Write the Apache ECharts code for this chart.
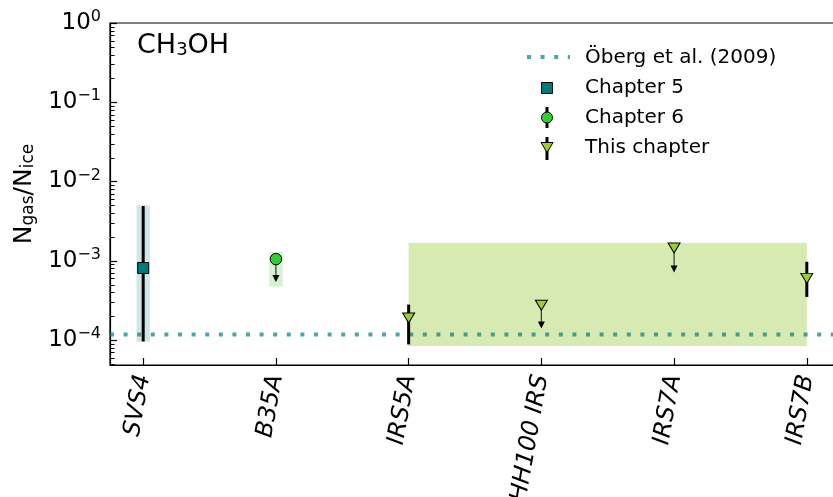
<!DOCTYPE html>
<html>
<head>
<meta charset="utf-8">
<title>CH3OH gas/ice ratio</title>
<script src="https://cdn.jsdelivr.net/npm/echarts@6/dist/echarts.min.js"></script>
<style>
    html, body { margin: 0; padding: 0; background: #fff; }
    #chart { width: 833px; height: 497px; }
</style>
</head>
<body>
<div id="chart"></div>
<script>
    // sources along the x axis
    const categories = ['SVS4', 'B35A', 'IRS5A', 'HH100 IRS', 'IRS7A', 'IRS7B'];
    const yTickValues = [1e-4, 1e-3, 1e-2, 1e-1, 1];
    const yMin = 4.84e-5;
    const yMax = 1;

    // Öberg et al. (2009) level
    const obergValue = 1.17e-4;

    // Chapter 5 (detection + error bar)
    const ch5Index = [0];
    const ch5Value = [8.1e-4];
    const ch5Low = [9.6e-5];
    const ch5High = [4.9e-3];

    // Chapter 6 (upper limit)
    const ch6Index = [1];
    const ch6Value = [1.05e-3];
    const ch6Arrow = [5.4e-4];

    // this chapter
    const thisIndex = [2, 3, 4, 5];
    const thisValue = [1.9e-4, 2.75e-4, 1.45e-3, 6.0e-4];
    const thisLow = [8.8e-5, null, null, 3.5e-4];
    const thisHigh = [2.8e-4, null, null, 9.7e-4];
    const thisArrow = [null, 1.4e-4, 7.1e-4, null];

    // shaded ranges
    const bandStart = [-0.05, 0.95, 2];
    const bandEnd = [0.05, 1.05, 5];
    const bandLow = [9.5e-5, 4.7e-4, 8.4e-5];
    const bandHigh = [5.0e-3, 1.29e-3, 1.67e-3];
    const bandColor = ['#cfe6e6', '#d6f2d2', '#d7eab2'];

    const FONT = 'DejaVu Sans';
    const TEAL = '#007b7b';
    const LIME = '#33cc33';
    const YGREEN = '#9acd32';
    const DOT = 'rgba(0, 128, 128, 0.7)';

    // minor ticks of the log axis (2..9 x 10^d)
    const yMinorTicks = [];
    for (let d = -5; d < 0; d++) {
        for (let k = 2; k <= 9; k++) {
            const v = k * Math.pow(10, d);
            if (v > yMin && v < yMax) yMinorTicks.push(v);
        }
    }

    const bandData = bandStart.map((s, i) => [s, bandEnd[i], bandLow[i], bandHigh[i]]);
    const errData = [];
    ch5Index.forEach((x, i) => errData.push([x, ch5Low[i], ch5High[i]]));
    thisIndex.forEach((x, i) => {
        if (thisLow[i] != null) errData.push([x, thisLow[i], thisHigh[i]]);
    });
    const arrowData = [];
    ch6Index.forEach((x, i) => arrowData.push([x, ch6Value[i], ch6Arrow[i]]));
    thisIndex.forEach((x, i) => {
        if (thisArrow[i] != null) arrowData.push([x, thisValue[i], thisArrow[i]]);
    });

    function renderBand(params, api) {
        const p0 = api.coord([api.value(0), api.value(3)]);
        const p1 = api.coord([api.value(1), api.value(2)]);
        return {
            type: 'rect',
            shape: {x: p0[0], y: p0[1], width: p1[0] - p0[0], height: p1[1] - p0[1]},
            style: {fill: bandColor[params.dataIndex]}
        };
    }

    // horizontal reference line across the whole plot
    function renderLevel(params, api) {
        const cs = params.coordSys;
        const y = api.coord([0, api.value(0)])[1];
        return {
            type: 'line',
            shape: {x1: cs.x, y1: y, x2: cs.x + cs.width, y2: y},
            style: {stroke: DOT, lineWidth: 4, lineDash: [4, 9.6], lineCap: 'butt'}
        };
    }

    // short inward tick on the left spine
    function renderMinorTick(params, api) {
        const cs = params.coordSys;
        const y = Math.round(api.coord([0, api.value(0)])[1]) + 0.5;
        return {
            type: 'line',
            shape: {x1: cs.x, y1: y, x2: cs.x + 4.5, y2: y},
            style: {stroke: '#000', lineWidth: 1}
        };
    }

    function renderErrorBar(params, api) {
        const top = api.coord([api.value(0), api.value(2)]);
        const bottom = api.coord([api.value(0), api.value(1)]);
        return {
            type: 'line',
            shape: {x1: top[0], y1: top[1], x2: bottom[0], y2: bottom[1]},
            style: {stroke: '#000', lineWidth: 3}
        };
    }

    function renderArrow(params, api) {
        const from = api.coord([api.value(0), api.value(1)]);
        const to = api.coord([api.value(0), api.value(2)]);
        return {
            type: 'group',
            children: [
                {
                    type: 'line',
                    shape: {x1: from[0], y1: from[1], x2: to[0], y2: to[1] - 5},
                    style: {stroke: '#333', lineWidth: 1.2}
                },
                {
                    type: 'polygon',
                    shape: {points: [[to[0] - 3.5, to[1] - 7], [to[0] + 3.5, to[1] - 7], [to[0], to[1]]]},
                    style: {fill: '#000'}
                }
            ]
        };
    }

    function supLabel(v) {
        const e = Math.round(Math.log10(v));
        const txt = e < 0 ? '\u2212' + (-e) : String(e);
        return '{b|10}{s|' + txt + '}';
    }

    const chart = echarts.init(document.getElementById('chart'), null, {renderer: 'canvas'});

    const option = {
        animation: false,
        backgroundColor: '#fff',
        textStyle: {fontFamily: FONT},
        grid: {
            left: 110, top: 23, width: 730, bottom: 132,
            containLabel: false,
            outerBoundsMode: 'none',
            show: true, borderColor: '#000', borderWidth: 1.2, backgroundColor: 'transparent'
        },
        xAxis: {
            type: 'value',
            min: -0.25,
            max: 5.25,
            splitLine: {show: false},
            axisLine: {onZero: false, lineStyle: {color: '#000', width: 1.2}},
            axisTick: {
                inside: true, length: 7,
                lineStyle: {color: '#000', width: 1.2},
                customValues: categories.map((c, i) => i)
            },
            axisLabel: {
                customValues: categories.map((c, i) => i),
                formatter: v => categories[Math.round(v)],
                rotate: 80,
                margin: 10,
                color: '#000',
                fontSize: 24,
                fontStyle: 'italic',
                fontFamily: FONT
            }
        },
        yAxis: {
            type: 'log',
            logBase: 10,
            min: yMin,
            max: yMax,
            name: 'N{s|gas}/N{s|ice}',
            nameLocation: 'middle',
            nameRotate: 90,
            nameGap: 68,
            nameTextStyle: {
                color: '#000', fontSize: 25, fontFamily: FONT,
                rich: {
                    s: {fontSize: 17, fontFamily: FONT, color: '#000', verticalAlign: 'bottom', padding: [8, 0, 0, 0]}
                }
            },
            splitLine: {show: false},
            axisLine: {show: true, onZero: false, lineStyle: {color: '#000', width: 1.2}},
            axisTick: {
                inside: true, length: 7,
                lineStyle: {color: '#000', width: 1.2},
                customValues: yTickValues
            },
            axisLabel: {
                customValues: yTickValues,
                formatter: supLabel,
                margin: 9,
                color: '#000',
                rich: {
                    b: {fontSize: 23, fontFamily: FONT, color: '#000', lineHeight: 28},
                    s: {fontSize: 16, fontFamily: FONT, color: '#000', verticalAlign: 'top', lineHeight: 16}
                }
            }
        },
        graphic: [
            {
                type: 'text', left: 137, top: 32,
                style: {
                    text: 'CH{s|3}OH',
                    font: '27px "DejaVu Sans"',
                    fill: '#000',
                    rich: {s: {fontSize: 18, fontFamily: FONT, fill: '#000', verticalAlign: 'bottom', padding: [10, 0, 0, 0]}}
                }
            },
            // legend
            {
                type: 'line', shape: {x1: 527, y1: 57, x2: 570, y2: 57},
                style: {stroke: DOT, lineWidth: 4, lineDash: [4, 9.6]}
            },
            {type: 'rect', shape: {x: 541.5, y: 82.5, width: 11, height: 11}, style: {fill: TEAL, stroke: '#000', lineWidth: 1}},
            {type: 'line', shape: {x1: 547, y1: 107, x2: 547, y2: 128}, style: {stroke: '#000', lineWidth: 3}},
            {type: 'circle', shape: {cx: 547, cy: 117.5, r: 5.5}, style: {fill: LIME, stroke: '#000', lineWidth: 1}},
            {type: 'line', shape: {x1: 547, y1: 137, x2: 547, y2: 160}, style: {stroke: '#000', lineWidth: 3}},
            {
                type: 'polygon', shape: {points: [[541, 142.5], [553, 142.5], [547, 152.5]]},
                style: {fill: YGREEN, stroke: '#000', lineWidth: 1}
            },
            {type: 'text', left: 585, top: 48, style: {text: 'Öberg et al. (2009)', font: '20px "DejaVu Sans"', fill: '#000'}},
            {type: 'text', left: 585, top: 78, style: {text: 'Chapter 5', font: '20px "DejaVu Sans"', fill: '#000'}},
            {type: 'text', left: 585, top: 108, style: {text: 'Chapter 6', font: '20px "DejaVu Sans"', fill: '#000'}},
            {type: 'text', left: 585, top: 138, style: {text: 'This chapter', font: '20px "DejaVu Sans"', fill: '#000'}}
        ],
        series: [
            {
                name: 'minor ticks',
                type: 'custom',
                renderItem: renderMinorTick,
                data: yMinorTicks.map(v => [v]),
                encode: {y: 0},
                z: 6,
                silent: true
            },
            {
                name: 'bands',
                type: 'custom',
                renderItem: renderBand,
                data: bandData,
                encode: {x: [0, 1], y: [2, 3]},
                z: 1,
                silent: true
            },
            {
                name: 'Öberg et al. (2009)',
                type: 'custom',
                renderItem: renderLevel,
                data: [[obergValue]],
                encode: {y: 0},
                z: 2,
                silent: true
            },
            {
                name: 'error bars',
                type: 'custom',
                renderItem: renderErrorBar,
                data: errData,
                encode: {x: 0, y: [1, 2]},
                z: 3,
                silent: true
            },
            {
                name: 'limits',
                type: 'custom',
                renderItem: renderArrow,
                data: arrowData,
                encode: {x: 0, y: [1, 2]},
                z: 3,
                silent: true
            },
            {
                name: 'Chapter 5',
                type: 'scatter',
                symbol: 'rect',
                symbolSize: 11,
                itemStyle: {color: TEAL, borderColor: '#000', borderWidth: 1, opacity: 1},
                data: ch5Index.map((x, i) => [x, ch5Value[i]]),
                z: 5
            },
            {
                name: 'Chapter 6',
                type: 'scatter',
                symbol: 'circle',
                symbolSize: 11.5,
                itemStyle: {color: LIME, borderColor: '#000', borderWidth: 1, opacity: 1},
                data: ch6Index.map((x, i) => [x, ch6Value[i]]),
                z: 5
            },
            {
                name: 'This chapter',
                type: 'scatter',
                symbol: 'triangle',
                symbolRotate: 180,
                symbolSize: [12, 10],
                itemStyle: {color: YGREEN, borderColor: '#000', borderWidth: 1, opacity: 1},
                data: thisIndex.map((x, i) => [x, thisValue[i]]),
                z: 5
            }
        ]
    };

    chart.setOption(option);
</script>
</body>
</html>
